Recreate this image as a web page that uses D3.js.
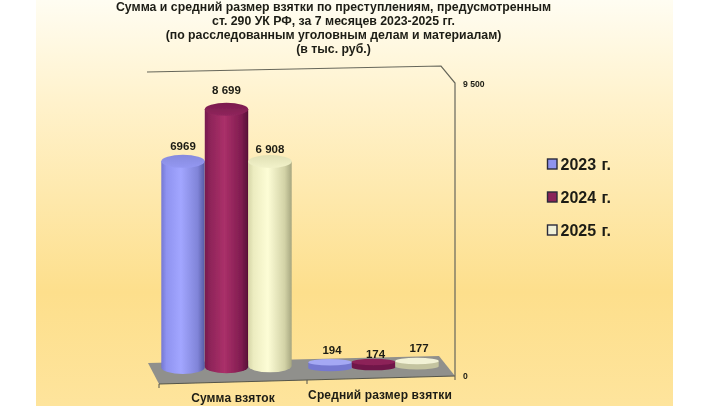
<!DOCTYPE html>
<html><head><meta charset="utf-8">
<script src="https://cdn.jsdelivr.net/npm/d3@7/dist/d3.min.js"></script>
<style>html,body{margin:0;padding:0;background:#fff}svg{display:block}text{font-family:"Liberation Sans",Arial,sans-serif;font-weight:bold;fill:#1c1c14}</style>
</head><body><svg id="c" width="720" height="406"></svg>
<script>
const titleLines=["Сумма и средний размер взятки по преступлениям, предусмотренным","ст. 290 УК РФ, за 7 месяцев 2023-2025 гг.","(по расследованным уголовным делам и материалам)","(в тыс. руб.)"];
const categories=["Сумма взяток","Средний размер взятки"];
const seriesNames=["2023 г.","2024 г.","2025 г."];
const values2023=[6969,194];
const values2024=[8699,174];
const values2025=[6908,177];
const labels2023=["6969","194"];
const labels2024=["8 699","174"];
const labels2025=["6 908","177"];
const axisTicks=[0,9500];
const axisTickLabels=["0","9 500"];
const seriesValues=[values2023,values2024,values2025];
const seriesLabels=[labels2023,labels2024,labels2025];
const sideStops=[
 ["#7478d4","#8f93f0","#a2a6ff","#8084d8","#565aa4"],
 ["#761a4e","#8e2459","#aa3069","#801c50","#561036"],
 ["#d6d6a8","#ecECC0","#fdfdd6","#d2d2a6","#a6a680"]];
const topStops=[["#868ade","#9498f2"],["#7a1a4e","#90265c"],["#e0e0b4","#f2f2ca"]];
const legendFill=["#8f93ee","#8a2058","#f0f0d8"];
const discTop=["#a4a8f4","#8c2058","#f2f2d6"];
const discSide=["#7478d0","#701848","#c4c4a0"];

const svg=d3.select("#c");
const defs=svg.append("defs");
const bg=defs.append("linearGradient").attr("id","bg").attr("x1",0).attr("x2",0).attr("y1",0).attr("y2",1);
[[0,"#fffdf2"],[.25,"#fff2cc"],[.72,"#fddf8c"],[1,"#fee49c"]].forEach(s=>bg.append("stop").attr("offset",s[0]).attr("stop-color",s[1]));
defs.append("filter").attr("id","soft").attr("x","-10%").attr("y","-10%").attr("width","120%").attr("height","120%").append("feGaussianBlur").attr("stdDeviation",.45);
sideStops.forEach((c,i)=>{
  const g=defs.append("linearGradient").attr("id","cyl"+i);
  [0,.12,.45,.84,1].forEach((o,k)=>g.append("stop").attr("offset",o).attr("stop-color",c[k]));
});
topStops.forEach((c,i)=>{
  const g=defs.append("linearGradient").attr("id","top"+i).attr("x1",0).attr("x2",0).attr("y1",0).attr("y2",1);
  g.append("stop").attr("offset",0).attr("stop-color",c[0]);
  g.append("stop").attr("offset",1).attr("stop-color",c[1]);
});
svg.append("rect").attr("x",36).attr("y",0).attr("width",637).attr("height",406).attr("fill","url(#bg)");

const root=svg.append("g").attr("filter","url(#soft)");
root.append("g").selectAll("text").data(titleLines).join("text")
  .attr("x",333.5).attr("y",(d,i)=>11.2+i*14).attr("text-anchor","middle").attr("font-size",12.3).text(d=>d);

const x0=d3.scaleBand().domain(categories).range([153,447]);
const x1=d3.scalePoint().domain(seriesNames).range([30,117]);
const h=d3.scaleLinear().domain([0,9500]).range([0,281]);
const bottom=d3.scaleLinear().domain([183,417]).range([374,369.5]);
const axisY=d3.scaleLinear().domain([0,9500]).range([376,84]);
const rx=21.7;
const ryByCat=[6.5,3.2];
const labelGap=[[11.5,15.4,8.5],[8.5,4,9]];

root.append("path").attr("d",d3.line()([[147,72],[441,66],[455,83],[455,376]])).attr("fill","none").attr("stroke","#66665a").attr("stroke-width",1.2);
root.append("path").attr("d",d3.line()([[148,363],[439,356],[455,376],[159,384]])+"Z").attr("fill","#90908c");
root.append("path").attr("d",d3.line()([[159,384],[455,376]])).attr("stroke","#55554a").attr("stroke-width",1.1).attr("fill","none");
root.append("g").selectAll("line").data([159,307,455]).join("line").attr("x1",d=>d).attr("x2",d=>d).attr("y1",d=>384-(d-159)*8/296).attr("y2",d=>388-(d-159)*8/296).attr("stroke","#55554a");

const axis=d3.axisRight(axisY).tickValues(axisTicks).tickSize(0).tickPadding(0).tickFormat((d,i)=>axisTickLabels[i]);
const ag=root.append("g").attr("transform","translate(463,0)").call(axis);
ag.select(".domain").remove();
ag.selectAll("text").attr("font-size",8.6).attr("font-family","Liberation Sans").attr("font-weight","bold").attr("fill","#1c1c14");

categories.forEach((cat,ci)=>{
  seriesNames.forEach((s,si)=>{
    const cx=x0(cat)+x1(s), v=seriesValues[si][ci], ry=ryByCat[ci], b=bottom(cx)-ry, ht=h(v);
    const g=root.append("g");
    g.append("path").attr("d",`M${cx-rx},${b-ht}V${b}A${rx},${ry} 0 0 0 ${cx+rx},${b}V${b-ht}Z`).attr("fill",ci?discSide[si]:`url(#cyl${si})`);
    g.append("ellipse").attr("cx",cx).attr("cy",b-ht).attr("rx",rx).attr("ry",ry).attr("fill",ci?discTop[si]:`url(#top${si})`);
    root.append("text").attr("x",cx+(ci?2:0)).attr("y",b-ht-labelGap[ci][si]).attr("text-anchor","middle").attr("font-size",11.5).text(seriesLabels[si][ci]);
  });
});

root.append("g").selectAll("text").data(categories).join("text")
  .attr("x",(d,i)=>i?380:233).attr("y",(d,i)=>i?399:402).attr("text-anchor","middle").attr("font-size",12).attr("letter-spacing",.12).text(d=>d);

const ly=d3.scalePoint().domain(seriesNames).range([164,230]);
const lg=root.append("g").selectAll("g").data(seriesNames).join("g").attr("transform",d=>`translate(547,${ly(d)})`);
lg.append("rect").attr("x",.5).attr("y",-5).attr("width",9.5).attr("height",10).attr("fill",(d,i)=>legendFill[i]).attr("stroke","#2a2a3a").attr("stroke-width",1.4);
lg.append("text").attr("x",13.5).attr("y",6).attr("font-size",16).attr("word-spacing",1).text(d=>d);
</script></body></html>
